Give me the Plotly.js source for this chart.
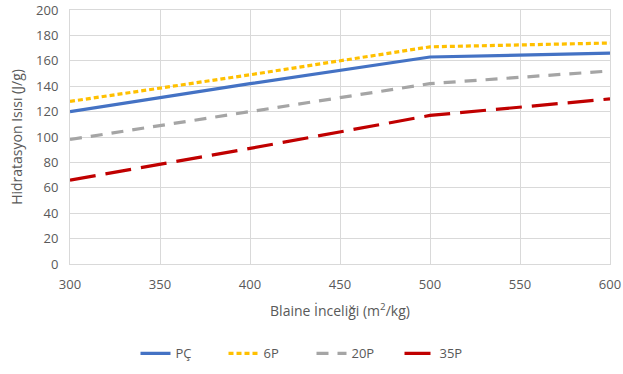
<!DOCTYPE html>
<html><head><meta charset="utf-8">
<script src="https://cdn.plot.ly/plotly-3.0.1.min.js"></script>
<style>html,body{margin:0;padding:0;background:#fff}#c{width:623px;height:374px}</style>
</head><body><div id="c"></div>
<script>
const blaine = [300, 400, 500, 600];
const pc = [120, 142, 163, 166];
const p6 = [128, 149, 171, 174];
const p20 = [98, 120, 142, 152];
const p35 = [66, 91, 117, 130];
const names = ["PÇ", "6P", "20P", "35P"];
const colors = ["#4472C4", "#FFC000", "#A5A5A5", "#C00000"];
const dashes = ["solid", "5px,3px", "12px,9px", "26px,10px"];
const series = [pc, p6, p20, p35];
const traces = series.map((y, i) => ({
  x: blaine, y: y, type: "scatter", mode: "lines", name: names[i],
  line: {color: colors[i], width: 3.2, dash: dashes[i]}
}));
const font = {family: "'Open Sans', Lato, sans-serif", size: 13, color: "#595959"};
Plotly.newPlot("c", traces, {
  width: 623, height: 374,
  margin: {l: 70, r: 13, t: 10, b: 110, autoexpand: false},
  paper_bgcolor: "#fff", plot_bgcolor: "#fff",
  font: font,
  xaxis: {range: [300, 600], dtick: 50, showgrid: true, gridcolor: "#D9D9D9", gridwidth: 1,
    zeroline: false, showline: true, linecolor: "#D9D9D9", linewidth: 1, mirror: true, ticks: "",
    ticklabelstandoff: 8, automargin: false,
    title: {text: "Blaine İnceliği (m<sup>2</sup>/kg)", font: {size: 14, color: "#595959"}, standoff: 14}},
  yaxis: {range: [0, 200], dtick: 20, showgrid: true, gridcolor: "#D9D9D9", gridwidth: 1,
    zeroline: false, showline: true, linecolor: "#D9D9D9", linewidth: 1, mirror: true, ticks: "",
    ticklabelstandoff: 8, automargin: false,
    title: {text: "Hidratasyon Isısı (J/g)", font: {size: 14, color: "#595959"}, standoff: 10}},
  legend: {orientation: "h", x: 0.5, xref: "container", xanchor: "center", yref: "container", y: 0.055, yanchor: "middle",
    entrywidth: 43, entrywidthmode: "pixels",
    font: {size: 13, color: "#595959"}},
  showlegend: true
}, {displayModeBar: false, staticPlot: true});
</script></body></html>
